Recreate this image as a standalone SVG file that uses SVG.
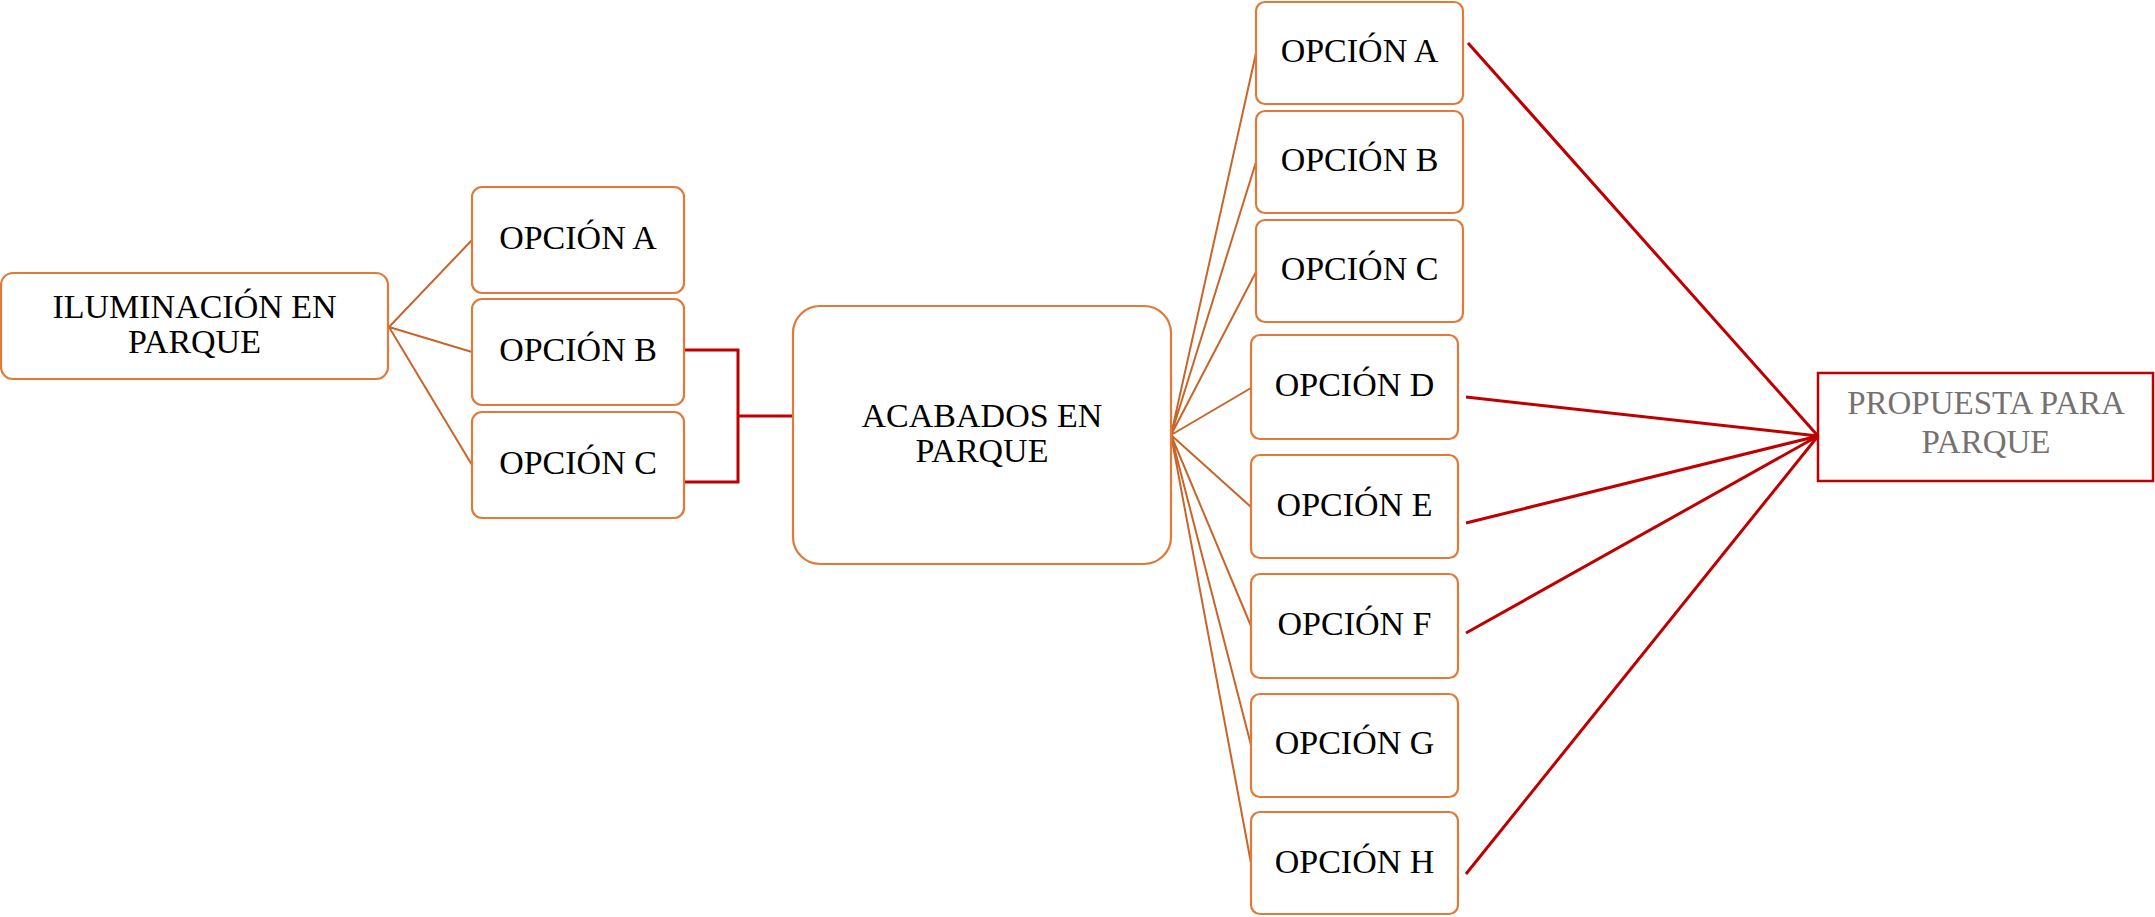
<svg xmlns="http://www.w3.org/2000/svg" width="2155" height="917" viewBox="0 0 2155 917">
<style>
.box{fill:#fff;stroke:#E07A38;stroke-width:2.2}
.pbox{fill:#fff;stroke:#C00000;stroke-width:2.5}
.t{font-family:"Liberation Serif","DejaVu Serif",serif;font-size:34px;fill:#000;text-anchor:middle}
.tg{font-family:"Liberation Serif","DejaVu Serif",serif;font-size:33px;fill:#767171;text-anchor:middle}
.oc{stroke:#C8652A;stroke-width:2;fill:none}
.rc{stroke:#C00000;stroke-width:3;fill:none}
</style>
<rect width="2155" height="917" fill="#fff"/>
<g id="connectors">
<path class="oc" d="M389,327 L472,240 M389,327 L472,352 M389,327 L472,465"/>
<path class="oc" d="M1171,435 L1256,53 M1171,435 L1256,162 M1171,435 L1256,272 M1171,435 L1251,388 M1171,435 L1251,507 M1171,435 L1251,626 M1171,435 L1251,745 M1171,435 L1251,863"/>
<path class="rc" d="M684,350 H738 V482 H684 M738,416 H793"/>
<path class="rc" d="M1468,43 L1818,436 M1466,397 L1818,436 M1466,523 L1818,436 M1466,633 L1818,436 M1466,874 L1818,436"/>
</g>
<g id="iluminacion"><rect class="box" x="1" y="273" width="387" height="106" rx="12"/><text class="t" x="194.5" y="318">ILUMINACIÓN EN</text><text class="t" x="194.5" y="353">PARQUE</text></g>
<g id="ilum-a"><rect class="box" x="472" y="187" width="212" height="106" rx="10"/><text class="t" x="578" y="249">OPCIÓN A</text></g>
<g id="ilum-b"><rect class="box" x="472" y="299" width="212" height="106" rx="10"/><text class="t" x="578" y="361">OPCIÓN B</text></g>
<g id="ilum-c"><rect class="box" x="472" y="412" width="212" height="106" rx="10"/><text class="t" x="578" y="474">OPCIÓN C</text></g>
<g id="acabados"><rect class="box" x="793" y="306" width="378" height="258" rx="27"/><text class="t" x="982" y="427">ACABADOS EN</text><text class="t" x="982" y="462">PARQUE</text></g>
<g id="acab-a"><rect class="box" x="1256" y="2" width="207" height="102" rx="9"/><text class="t" x="1359.5" y="62">OPCIÓN A</text></g>
<g id="acab-b"><rect class="box" x="1256" y="111" width="207" height="102" rx="9"/><text class="t" x="1359.5" y="171">OPCIÓN B</text></g>
<g id="acab-c"><rect class="box" x="1256" y="220" width="207" height="102" rx="9"/><text class="t" x="1359.5" y="280">OPCIÓN C</text></g>
<g id="acab-d"><rect class="box" x="1251" y="335" width="207" height="104" rx="9"/><text class="t" x="1354.5" y="396">OPCIÓN D</text></g>
<g id="acab-e"><rect class="box" x="1251" y="455" width="207" height="103" rx="9"/><text class="t" x="1354.5" y="516">OPCIÓN E</text></g>
<g id="acab-f"><rect class="box" x="1251" y="574" width="207" height="104" rx="9"/><text class="t" x="1354.5" y="635">OPCIÓN F</text></g>
<g id="acab-g"><rect class="box" x="1251" y="694" width="207" height="103" rx="9"/><text class="t" x="1354.5" y="754">OPCIÓN G</text></g>
<g id="acab-h"><rect class="box" x="1251" y="812" width="207" height="102" rx="9"/><text class="t" x="1354.5" y="873">OPCIÓN H</text></g>
<g id="propuesta"><rect class="pbox" x="1818" y="373" width="335" height="108"/><text class="tg" x="1986" y="414">PROPUESTA PARA</text><text class="tg" x="1986" y="453">PARQUE</text></g>
</svg>
